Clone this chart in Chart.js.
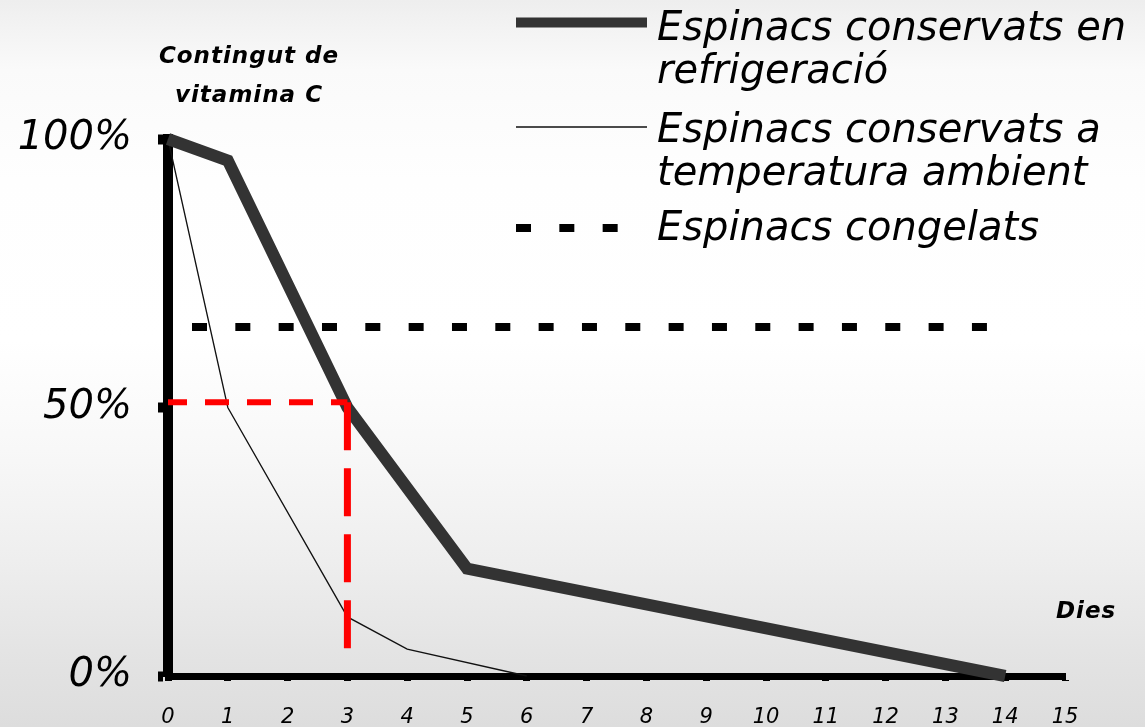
<!DOCTYPE html>
<html lang="ca">
<head>
<meta charset="utf-8">
<title>Contingut de vitamina C</title>
<script src="https://cdn.jsdelivr.net/npm/chart.js@4.4.1/dist/chart.umd.min.js"></script>
<style>
    html, body { margin: 0; padding: 0; width: 1145px; height: 727px; overflow: hidden; }
    body {
        background: linear-gradient(to bottom, #eeeeee 0px, #fafafa 70px, #fefefe 180px, #ffffff 340px, #f8f8f8 450px, #eeeeee 560px, #e3e3e3 660px, #dddddd 727px);
    }
    #wrap { position: relative; width: 1145px; height: 727px; }
</style>
</head>
<body>
<div id="wrap"><canvas id="grafic"></canvas></div>
<script>
// Dades (llegides del gràfic)
const diesEix = [0, 1, 2, 3, 4, 5, 6, 7, 8, 9, 10, 11, 12, 13, 14, 15];
const percentEix = [0, 50, 100];

const refrigeracioDies = [0, 1, 3, 5, 14];
const refrigeracioValors = [100, 96, 50, 20, 0];

const ambientDies = [0, 1, 3, 4, 6];
const ambientValors = [100, 50, 11, 5, 0];

const congelatsDies = [0, 14];
const congelatsValors = [65, 65];

// línies vermelles de referència (50% als 3 dies)
const referenciaHDies = [0, 3];
const referenciaHValors = [51, 51];
const referenciaVDies = [3, 3];
const referenciaVValors = [51, 5];

const titolY = ['Contingut de', 'vitamina C'];
const titolX = 'Dies';
const llegendaTextos = [
    ['Espinacs conservats en', 'refrigeració'],
    ['Espinacs conservats a', 'temperatura ambient'],
    ['Espinacs congelats']
];

const FONT = '"DejaVu Sans", Verdana, sans-serif';

function punts(xs, ys) {
    return xs.map((x, i) => ({ x: x, y: ys[i] }));
}

// Llegenda i títols dels eixos dibuixats a mà
const llegendaPlugin = {
    id: 'llegenda',
    afterDraw(chart) {
        const ctx = chart.ctx;
        ctx.save();

        // títols
        ctx.fillStyle = '#000';
        ctx.font = 'italic bold 23px ' + FONT;
        ctx.letterSpacing = '1px';
        ctx.textBaseline = 'alphabetic';
        ctx.textAlign = 'center';
        titolY.forEach((t, i) => ctx.fillText(t, 249, 63 + i * 39));
        ctx.textAlign = 'left';
        ctx.fillText(titolX, 1056, 618);
        ctx.letterSpacing = '0px';

        // llegenda
        const posicions = [
            { ds: 0, mostraY: 22.5, gruix: 10, base: 40 },
            { ds: 1, mostraY: 127, gruix: 1.5, base: 142 },
            { ds: 2, mostraY: 228, gruix: 8, base: 240 }
        ];
        ctx.font = 'italic 40px ' + FONT;
        posicions.forEach((p, i) => {
            const ds = chart.data.datasets[p.ds];
            ctx.beginPath();
            ctx.strokeStyle = ds.borderColor;
            ctx.lineWidth = p.gruix;
            ctx.lineCap = 'butt';
            ctx.setLineDash(ds.legendDash || []);
            ctx.moveTo(516, p.mostraY);
            ctx.lineTo(ds.legendDash ? 640 : 647, p.mostraY);
            ctx.stroke();
            ctx.setLineDash([]);

            ctx.fillStyle = '#000';
            llegendaTextos[i].forEach((linia, j) => {
                ctx.fillText(linia, 657, p.base + j * 43);
            });
        });

        ctx.restore();
    }
};

const ctx = document.getElementById('grafic').getContext('2d');
const grafic = new Chart(ctx, {
    type: 'line',
    data: {
        datasets: [
            {
                label: llegendaTextos[0].join(' '),
                data: punts(refrigeracioDies, refrigeracioValors),
                borderColor: '#333333',
                borderWidth: 12,
                pointRadius: 0,
                clip: false,
                order: 3
            },
            {
                label: llegendaTextos[1].join(' '),
                data: punts(ambientDies, ambientValors),
                borderColor: '#111111',
                borderWidth: 1.3,
                pointRadius: 0,
                clip: false,
                order: 4
            },
            {
                label: llegendaTextos[2].join(' '),
                data: punts(congelatsDies, congelatsValors),
                borderColor: '#000000',
                borderWidth: 8,
                borderDash: [15, 28.33],
                borderDashOffset: 19.33,
                legendDash: [15, 28.33],
                pointRadius: 0,
                clip: false,
                order: 2
            },
            {
                label: 'ref50h',
                data: punts(referenciaHDies, referenciaHValors),
                borderColor: '#ff0000',
                borderWidth: 6,
                borderDash: [24, 18],
                borderDashOffset: 5,
                pointRadius: 0,
                clip: false,
                order: 1
            },
            {
                label: 'ref50v',
                data: punts(referenciaVDies, referenciaVValors),
                borderColor: '#ff0000',
                borderWidth: 7,
                borderDash: [48, 18],
                pointRadius: 0,
                clip: false,
                order: 1
            }
        ]
    },
    options: {
        responsive: true,
        maintainAspectRatio: false,
        animation: false,
        layout: { padding: { top: 139, right: 80, left: 0, bottom: 0 } },
        plugins: {
            legend: { display: false },
            tooltip: { enabled: false }
        },
        scales: {
            x: {
                type: 'linear',
                min: 0,
                max: 15,
                afterBuildTicks: s => { s.ticks = diesEix.map(v => ({ value: v })); },
                afterFit: s => { s.height = 51; },
                ticks: {
                    color: '#000',
                    padding: 24,
                    maxRotation: 0,
                    autoSkip: false,
                    font: { family: FONT, style: 'italic', size: 21 }
                },
                grid: { drawOnChartArea: false, drawTicks: true, tickLength: 5, tickWidth: 7, color: '#000' },
                border: { display: true, color: '#000', width: 7 }
            },
            y: {
                type: 'linear',
                min: 0,
                max: 100,
                afterBuildTicks: s => { s.ticks = percentEix.map(v => ({ value: v })); },
                afterFit: s => { s.width = 168; },
                ticks: {
                    color: '#000',
                    padding: 26,
                    callback: v => v + '%',
                    font: { family: FONT, style: 'italic', size: 40 }
                },
                grid: { drawOnChartArea: false, drawTicks: true, tickLength: 10, tickWidth: 10, color: '#000' },
                border: { display: true, color: '#000', width: 10 }
            }
        }
    },
    plugins: [llegendaPlugin]
});
</script>
</body>
</html>
